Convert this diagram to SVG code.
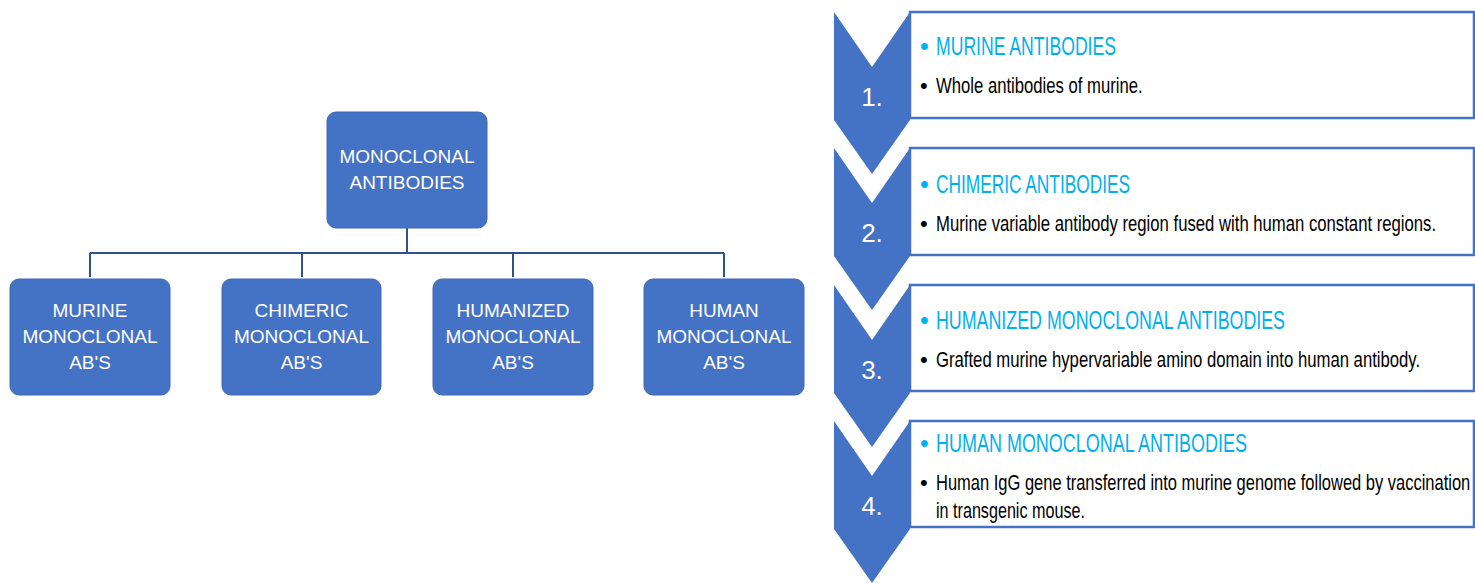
<svg xmlns="http://www.w3.org/2000/svg" width="1475" height="583" viewBox="0 0 1475 583">
<style>
.box{fill:#4472C4;stroke:#3E68B5;stroke-width:1}
.bt{font-family:"Liberation Sans",Arial,sans-serif;font-size:19px;fill:#fff;text-anchor:middle}
.conn{fill:none;stroke:#2F528F;stroke-width:2}
.chev{fill:#4472C4}
.card{fill:#fff;stroke:#4472C4;stroke-width:2.5}
.num{font-family:"Liberation Sans",Arial,sans-serif;font-size:26px;fill:#fff;text-anchor:middle}
.ttl{font-family:"Liberation Sans",Arial,sans-serif;font-size:25px;fill:#00B0F0}
.dsc{font-family:"Liberation Sans",Arial,sans-serif;font-size:22px;fill:#000}
</style>
<rect width="1475" height="583" fill="#fff"/>
<g id="connectors">
<path class="conn" d="M407 228V253M90 253H724M90 253V277M302 253V277M513 253V277M724 253V277"/>
</g>
<g id="root"><rect class="box" x="327" y="112" width="160" height="116" rx="9"/>
<text class="bt" x="407" y="163">MONOCLONAL</text><text class="bt" x="407" y="189">ANTIBODIES</text></g>
<g id="murine"><rect class="box" x="10" y="279" width="160" height="116" rx="9"/>
<text class="bt" x="90" y="317">MURINE</text><text class="bt" x="90" y="343">MONOCLONAL</text><text class="bt" x="90" y="369">AB'S</text></g>
<g id="chimeric"><rect class="box" x="222" y="279" width="159" height="116" rx="9"/>
<text class="bt" x="301.5" y="317">CHIMERIC</text><text class="bt" x="301.5" y="343">MONOCLONAL</text><text class="bt" x="301.5" y="369">AB'S</text></g>
<g id="humanized"><rect class="box" x="433" y="279" width="160" height="116" rx="9"/>
<text class="bt" x="513" y="317">HUMANIZED</text><text class="bt" x="513" y="343">MONOCLONAL</text><text class="bt" x="513" y="369">AB'S</text></g>
<g id="human"><rect class="box" x="644" y="279" width="160" height="116" rx="9"/>
<text class="bt" x="724" y="317">HUMAN</text><text class="bt" x="724" y="343">MONOCLONAL</text><text class="bt" x="724" y="369">AB'S</text></g>

<g id="item1">
<polygon class="chev" points="834,12 872,67 910,12 910,120 872,174 834,120"/>
<text class="num" x="872" y="106">1.</text>
<rect class="card" x="910" y="12" width="564" height="106"/>
<text class="ttl" x="920" y="55">•</text><text class="ttl" x="936" y="55" textLength="180" lengthAdjust="spacingAndGlyphs">MURINE ANTIBODIES</text>
<text class="dsc" x="920" y="93">•</text><text class="dsc" transform="translate(936,93) scale(0.76,1)" x="0" y="0" textLength="272" lengthAdjust="spacingAndGlyphs">Whole antibodies of murine.</text>
</g>
<g id="item2">
<polygon class="chev" points="834,148 872,203 910,148 910,256 872,310 834,256"/>
<text class="num" x="872" y="242">2.</text>
<rect class="card" x="910" y="148" width="564" height="107"/>
<text class="ttl" x="920" y="193">•</text><text class="ttl" x="936" y="193" textLength="194" lengthAdjust="spacingAndGlyphs">CHIMERIC ANTIBODIES</text>
<text class="dsc" x="920" y="231">•</text><text class="dsc" transform="translate(936,231) scale(0.76,1)" x="0" y="0" textLength="658" lengthAdjust="spacingAndGlyphs">Murine variable antibody region fused with human constant regions.</text>
</g>
<g id="item3">
<polygon class="chev" points="834,285 872,340 910,285 910,393 872,447 834,393"/>
<text class="num" x="872" y="379">3.</text>
<rect class="card" x="910" y="285" width="564" height="106"/>
<text class="ttl" x="920" y="329">•</text><text class="ttl" x="936" y="329" textLength="349" lengthAdjust="spacingAndGlyphs">HUMANIZED MONOCLONAL ANTIBODIES</text>
<text class="dsc" x="920" y="367">•</text><text class="dsc" transform="translate(936,367) scale(0.76,1)" x="0" y="0" textLength="637" lengthAdjust="spacingAndGlyphs">Grafted murine hypervariable amino domain into human antibody.</text>
</g>
<g id="item4">
<polygon class="chev" points="834,421 872,476 910,421 910,529 872,583 834,529"/>
<text class="num" x="872" y="515">4.</text>
<rect class="card" x="910" y="421" width="564" height="106"/>
<text class="ttl" x="920" y="452">•</text><text class="ttl" x="936" y="452" textLength="311" lengthAdjust="spacingAndGlyphs">HUMAN MONOCLONAL ANTIBODIES</text>
<text class="dsc" x="920" y="490">•</text><text class="dsc" transform="translate(936,490) scale(0.76,1)" x="0" y="0" textLength="703" lengthAdjust="spacingAndGlyphs">Human IgG gene transferred into murine genome followed by vaccination</text>
<text class="dsc" transform="translate(936,518) scale(0.76,1)" x="0" y="0" textLength="196" lengthAdjust="spacingAndGlyphs">in transgenic mouse.</text>
</g>
</svg>
